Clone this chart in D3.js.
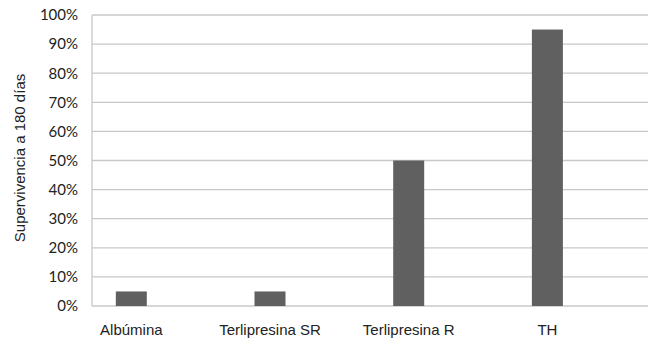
<!DOCTYPE html>
<html><head><meta charset="utf-8">
<script src="https://cdn.jsdelivr.net/npm/d3@7"></script>
<style>body{margin:0;background:#fff}svg{display:block}</style>
</head><body>
<script>
const categories = ["Albúmina", "Terlipresina SR", "Terlipresina R", "TH"];
const values = [0.05, 0.05, 0.50, 0.95];
const yTicks = [0, 0.1, 0.2, 0.3, 0.4, 0.5, 0.6, 0.7, 0.8, 0.9, 1.0];
const yTitle = "Supervivencia a 180 días";

const W = 648, H = 338;
const svg = d3.select("body").append("svg").attr("width", W).attr("height", H);
const plotL = 92, plotR = 648, plotT = 15, plotB = 306;

const y = d3.scaleLinear().domain([0, 1]).range([plotB, plotT]);
const x = d3.scaleBand().domain(categories).range([62, 616.7]).paddingInner(0.7765).paddingOuter(0.388);

// gridlines
svg.append("g").selectAll("line").data(yTicks).join("line")
  .attr("x1", plotL).attr("x2", plotR)
  .attr("y1", d => y(d)).attr("y2", d => y(d))
  .attr("stroke", "#c8c8c8").attr("stroke-width", 1.3);

// left axis line
svg.append("line").attr("x1", plotL).attr("x2", plotL).attr("y1", plotT).attr("y2", plotB)
  .attr("stroke", "#c8c8c8").attr("stroke-width", 1.3);

// y tick labels
const yAxis = d3.axisLeft(y).tickValues(yTicks).tickFormat(d3.format(".0%")).tickSize(0).tickPadding(14);
const ga = svg.append("g").attr("transform", `translate(${plotL},0)`).call(yAxis);
ga.select(".domain").remove();
ga.selectAll("text").attr("font-family", "Lato, 'Open Sans', sans-serif").attr("font-size", 15).attr("fill", "#222");

// bars
svg.append("g").selectAll("rect").data(categories).join("rect")
  .attr("x", d => x(d)).attr("width", x.bandwidth())
  .attr("y", (d, i) => y(values[i])).attr("height", (d, i) => y(0) - y(values[i]))
  .attr("fill", "#606060");

// x labels
const xAxis = d3.axisBottom(x).tickSize(0).tickPadding(0);
const gx = svg.append("g").attr("transform", `translate(0,${plotB})`).call(xAxis);
gx.select(".domain").remove();
gx.selectAll("text").attr("font-family", "'Liberation Sans', Arial, sans-serif").attr("font-size", 15)
  .attr("fill", "#222").attr("dy", null).attr("y", 29);

// y title
svg.append("text").attr("transform", `translate(25,158) rotate(-90)`)
  .attr("text-anchor", "middle").attr("font-family", "'Liberation Sans', Arial, sans-serif")
  .attr("font-size", 15).attr("fill", "#222").text(yTitle);
</script>
</body></html>
